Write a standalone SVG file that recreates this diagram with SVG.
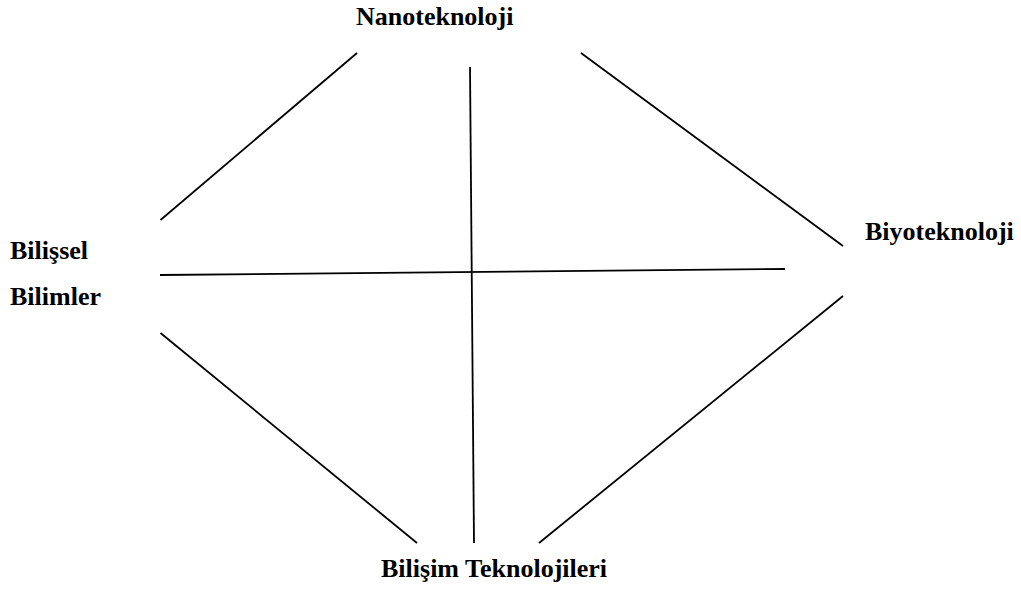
<svg xmlns="http://www.w3.org/2000/svg" width="1021" height="590" viewBox="0 0 1021 590">
<style>
.lbl{font-family:"Liberation Serif","Times New Roman",serif;font-weight:bold;font-size:26px;fill:#000}
.ln{stroke:#000;stroke-width:1.8;fill:none}
</style>
<rect width="1021" height="590" fill="#fff"/>
<g id="connectors">
<line class="ln" x1="357" y1="53" x2="160.5" y2="220"/>
<line class="ln" x1="470" y1="67" x2="474" y2="543"/>
<line class="ln" x1="581" y1="53" x2="843" y2="246"/>
<line class="ln" x1="160" y1="275" x2="785" y2="269"/>
<line class="ln" x1="160.5" y1="333" x2="417" y2="543"/>
<line class="ln" x1="843" y1="296" x2="539" y2="543"/>
</g>
<g id="nano"><text class="lbl" x="356" y="25">Nanoteknoloji</text></g>
<g id="biyo"><text class="lbl" x="865" y="240">Biyoteknoloji</text></g>
<g id="bilissel"><text class="lbl" x="10" y="259">Bilişsel</text><text class="lbl" x="10" y="305">Bilimler</text></g>
<g id="bilisim"><text class="lbl" x="381" y="577">Bilişim Teknolojileri</text></g>
</svg>
